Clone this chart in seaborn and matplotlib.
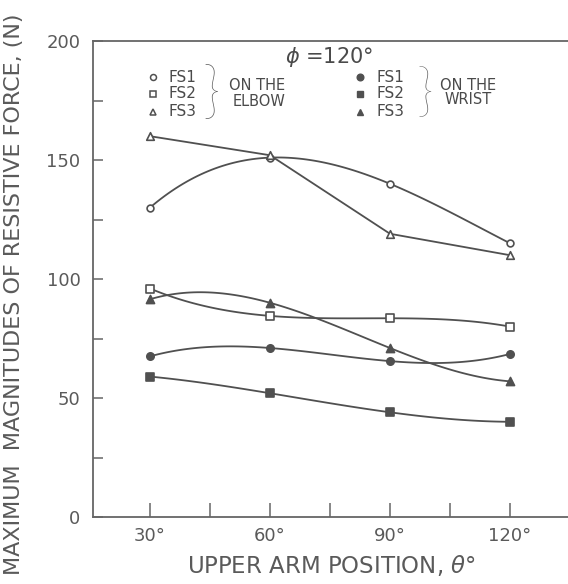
import matplotlib
matplotlib.use("Agg")
import matplotlib.pyplot as plt
import seaborn as sns
import numpy as np
import pandas as pd
from matplotlib.lines import Line2D

# ---- data ----
theta = [30, 60, 90, 120]
elbow_fs1 = [130, 151, 140, 115]
elbow_fs2 = [96, 84.5, 83.5, 80]
elbow_fs3 = [160, 152, 119, 110]
wrist_fs1 = [67.5, 71, 65.5, 68.5]
wrist_fs2 = [59, 52, 44, 40]
wrist_fs3 = [91.5, 90, 71, 57]
xtick_vals = [30, 60, 90, 120]
xtick_labels = ["30°", "60°", "90°", "120°"]
ytick_vals = [0, 50, 100, 150, 200]

sns.set_theme(style="white")
plt.rcParams['font.family'] = ['DejaVu Sans']

W, H = 568, 584
fig = plt.figure(figsize=(W / 100, H / 100), dpi=100)

def fx(px):
    return px / W

def fy(py):
    return 1 - py / H

left_px, right_px, top_px, bot_px = 93, 568, 41, 517
ax = fig.add_axes([fx(left_px), fy(bot_px), fx(right_px) - fx(left_px), fy(top_px) - fy(bot_px)])

LINE = "#505050"
TXT = "#5a5a5a"

# (values, marker, facecolor, size, curve order: 3 = smooth cubic, 1 = straight segments)
series = [
    (elbow_fs1, "o", "white", 24, 3),
    (elbow_fs2, "s", "white", 26, 3),
    (elbow_fs3, "^", "white", 30, 1),
    (wrist_fs1, "o", LINE, 28, 3),
    (wrist_fs2, "s", LINE, 26, 3),
    (wrist_fs3, "^", LINE, 34, 3),
]

for vals, mk, fc, s, order in series:
    df = pd.DataFrame({"theta": theta, "force": vals})
    if order == 3:
        sns.regplot(data=df, x="theta", y="force", order=3, ci=None, scatter=False,
                    truncate=True, ax=ax, line_kws=dict(color=LINE, lw=1.3))
    else:
        sns.lineplot(data=df, x="theta", y="force", color=LINE, lw=1.3, ax=ax)
    sns.scatterplot(data=df, x="theta", y="force", marker=mk, s=s, facecolor=fc,
                    edgecolor=LINE, linewidth=1.2, ax=ax, zorder=5)

ax.set_xlim(15.75, 134.5)
ax.set_ylim(0, 200)
ax.set_xticks(xtick_vals)
ax.set_xticklabels(xtick_labels)
ax.set_xticks([45, 75, 105], minor=True)
ax.set_yticks(ytick_vals)
ax.set_yticks([25, 75, 125, 175], minor=True)
ax.set_xlabel("")
ax.set_ylabel("")

for sp in ["left", "bottom", "top"]:
    ax.spines[sp].set_color("#666666")
    ax.spines[sp].set_linewidth(1.3)
ax.spines["right"].set_visible(False)

ax.tick_params(axis="x", which="both", direction="in", length=10, width=1.1,
               color="#666666", labelsize=13, labelcolor=TXT, pad=7)
ax.tick_params(axis="y", which="both", direction="in", length=7, width=1.1,
               color="#666666", labelsize=13, labelcolor=TXT, pad=9)
ax.tick_params(axis="x", which="both", bottom=True, top=False)
ax.tick_params(axis="y", which="both", left=True, right=False)

# axis titles
fig.text(fx(331), fy(566), "UPPER ARM POSITION, $\\theta$°", ha="center", va="center",
         fontsize=16.5, color=TXT)
fig.text(fx(14), fy(294), "MAXIMUM  MAGNITUDES OF RESISTIVE FORCE, (N)", ha="center",
         va="center", rotation=90, fontsize=16.0, color=TXT)

# phi annotation
fig.text(fx(329), fy(57), "$\\phi$ =120°", ha="center", va="center", fontsize=15, color="#4a4a4a")

# legend
rows = [77, 94, 112]
labels = ["FS1", "FS2", "FS3"]
for (mk, fc), y in zip([("o", "white"), ("s", "white"), ("^", "white")], rows):
    fig.add_artist(Line2D([fx(153)], [fy(y)], marker=mk, markersize=4.3, markerfacecolor=fc,
                          markeredgecolor=LINE, markeredgewidth=1.1, transform=fig.transFigure))
for (mk, fc), y in zip([("o", LINE), ("s", LINE), ("^", LINE)], rows):
    fig.add_artist(Line2D([fx(360)], [fy(y)], marker=mk, markersize=4.8, markerfacecolor=fc,
                          markeredgecolor=LINE, markeredgewidth=1.0, transform=fig.transFigure))
for lab, y in zip(labels, rows):
    fig.text(fx(168), fy(y), lab, ha="left", va="center", fontsize=11, color="#4a4a4a")
    fig.text(fx(377), fy(y), lab, ha="left", va="center", fontsize=11, color="#4a4a4a")

fig.text(fx(211), fy(94), "}", ha="center", va="center", fontsize=44, color="#5a5a5a",
         family=["Lato", "DejaVu Sans"], fontweight="light")
fig.text(fx(425), fy(94), "}", ha="center", va="center", fontsize=42, color="#5a5a5a",
         family=["Lato", "DejaVu Sans"], fontweight="light")
fig.text(fx(257), fy(85), "ON THE", ha="center", va="center", fontsize=10.5, color="#4a4a4a")
fig.text(fx(259), fy(101), "ELBOW", ha="center", va="center", fontsize=10.5, color="#4a4a4a")
fig.text(fx(468), fy(85), "ON THE", ha="center", va="center", fontsize=10.5, color="#4a4a4a")
fig.text(fx(468), fy(100), "WRIST", ha="center", va="center", fontsize=10.5, color="#4a4a4a")

fig.savefig("out.png", dpi=100)
